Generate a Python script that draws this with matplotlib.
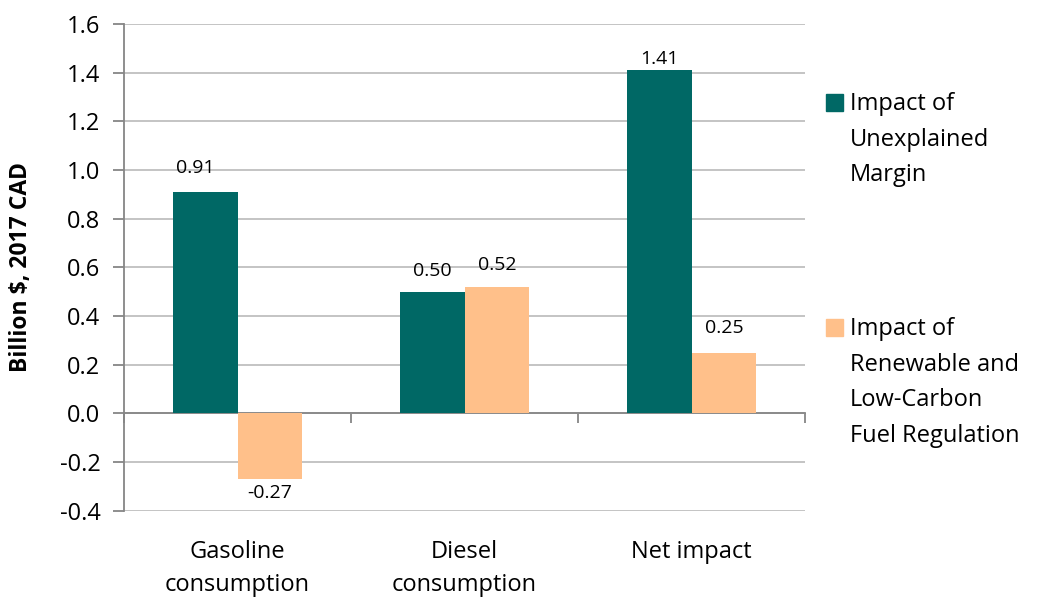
import matplotlib.pyplot as plt
from matplotlib.patches import Rectangle
import numpy as np

plt.rcParams["font.family"] = ["Open Sans", "DejaVu Sans"]

categories = ["Gasoline\nconsumption", "Diesel\nconsumption", "Net impact"]
margin_impact = [0.91, 0.50, 1.41]
fuel_reg_impact = [-0.27, 0.52, 0.25]
series_names = ["Impact of\nUnexplained\nMargin",
                "Impact of\nRenewable and\nLow-Carbon\nFuel Regulation"]
yticks = [-0.4, -0.2, 0.0, 0.2, 0.4, 0.6, 0.8, 1.0, 1.2, 1.4, 1.6]

teal = "#006865"
peach = "#FFC08A"
grid_col = "#BFBFBF"
axis_col = "#868686"

fig = plt.figure(figsize=(10.42, 5.99), dpi=100)
ax = fig.add_axes([0.119, 0.1474, 0.6536, 0.8126])

x = np.arange(len(categories))
w = 0.286
b1 = ax.bar(x - w / 2, margin_impact, w, color=teal, zorder=3)
b2 = ax.bar(x + w / 2, fuel_reg_impact, w, color=peach, zorder=3)

ax.set_xlim(-0.5, 2.5)
ax.set_ylim(-0.4, 1.6)
ax.set_yticks(yticks)
ax.set_yticklabels(["%.1f" % v for v in yticks], fontsize=17)
ax.yaxis.grid(True, color=grid_col, linewidth=1.3, zorder=0)
ax.tick_params(axis="y", length=8, width=1.3, color=axis_col, pad=9)

for s in ["top", "right"]:
    ax.spines[s].set_visible(False)
ax.spines["left"].set_color(axis_col)
ax.spines["left"].set_linewidth(1.3)
ax.spines["bottom"].set_position(("data", 0))
ax.spines["bottom"].set_color(axis_col)
ax.spines["bottom"].set_linewidth(1.3)
ax.set_xticks([-0.5, 0.5, 1.5, 2.5])
ax.set_xticklabels([])
ax.tick_params(axis="x", length=7, width=1.3, color=axis_col, direction="out")

for i, c in enumerate(categories):
    ax.text(i, -0.06, c, transform=ax.get_xaxis_transform(), ha="center",
            va="top", fontsize=17, linespacing=1.5)

ax.set_ylabel("Billion $, 2017 CAD", fontsize=16.5, fontweight="bold")
ax.yaxis.set_label_coords(-0.134, 0.5)

# value labels, offsets in points
offsets1 = [(-7, 17), (0, 15), (0, 8)]
offsets2 = [(0, -10), (0, 16), (0, 18)]
for bars, vals, offs in [(b1, margin_impact, offsets1), (b2, fuel_reg_impact, offsets2)]:
    for r, v, o in zip(bars, vals, offs):
        ax.annotate("%.2f" % v, (r.get_x() + r.get_width() / 2, v),
                    xytext=o, textcoords="offset points", ha="center",
                    va="center", fontsize=14)

# legend at the right
leg_items = [(series_names[0], teal, 0.8147, 0.8464),
             (series_names[1], peach, 0.439, 0.4708)]
for name, col, sq_bottom, txt_top in leg_items:
    fig.patches.append(Rectangle((0.7927, sq_bottom), 0.0163, 0.0284,
                                 transform=fig.transFigure, color=col))
    fig.text(0.8157, txt_top, name, fontsize=17, va="top", ha="left", linespacing=1.65)

fig.savefig("out.png", dpi=100)
